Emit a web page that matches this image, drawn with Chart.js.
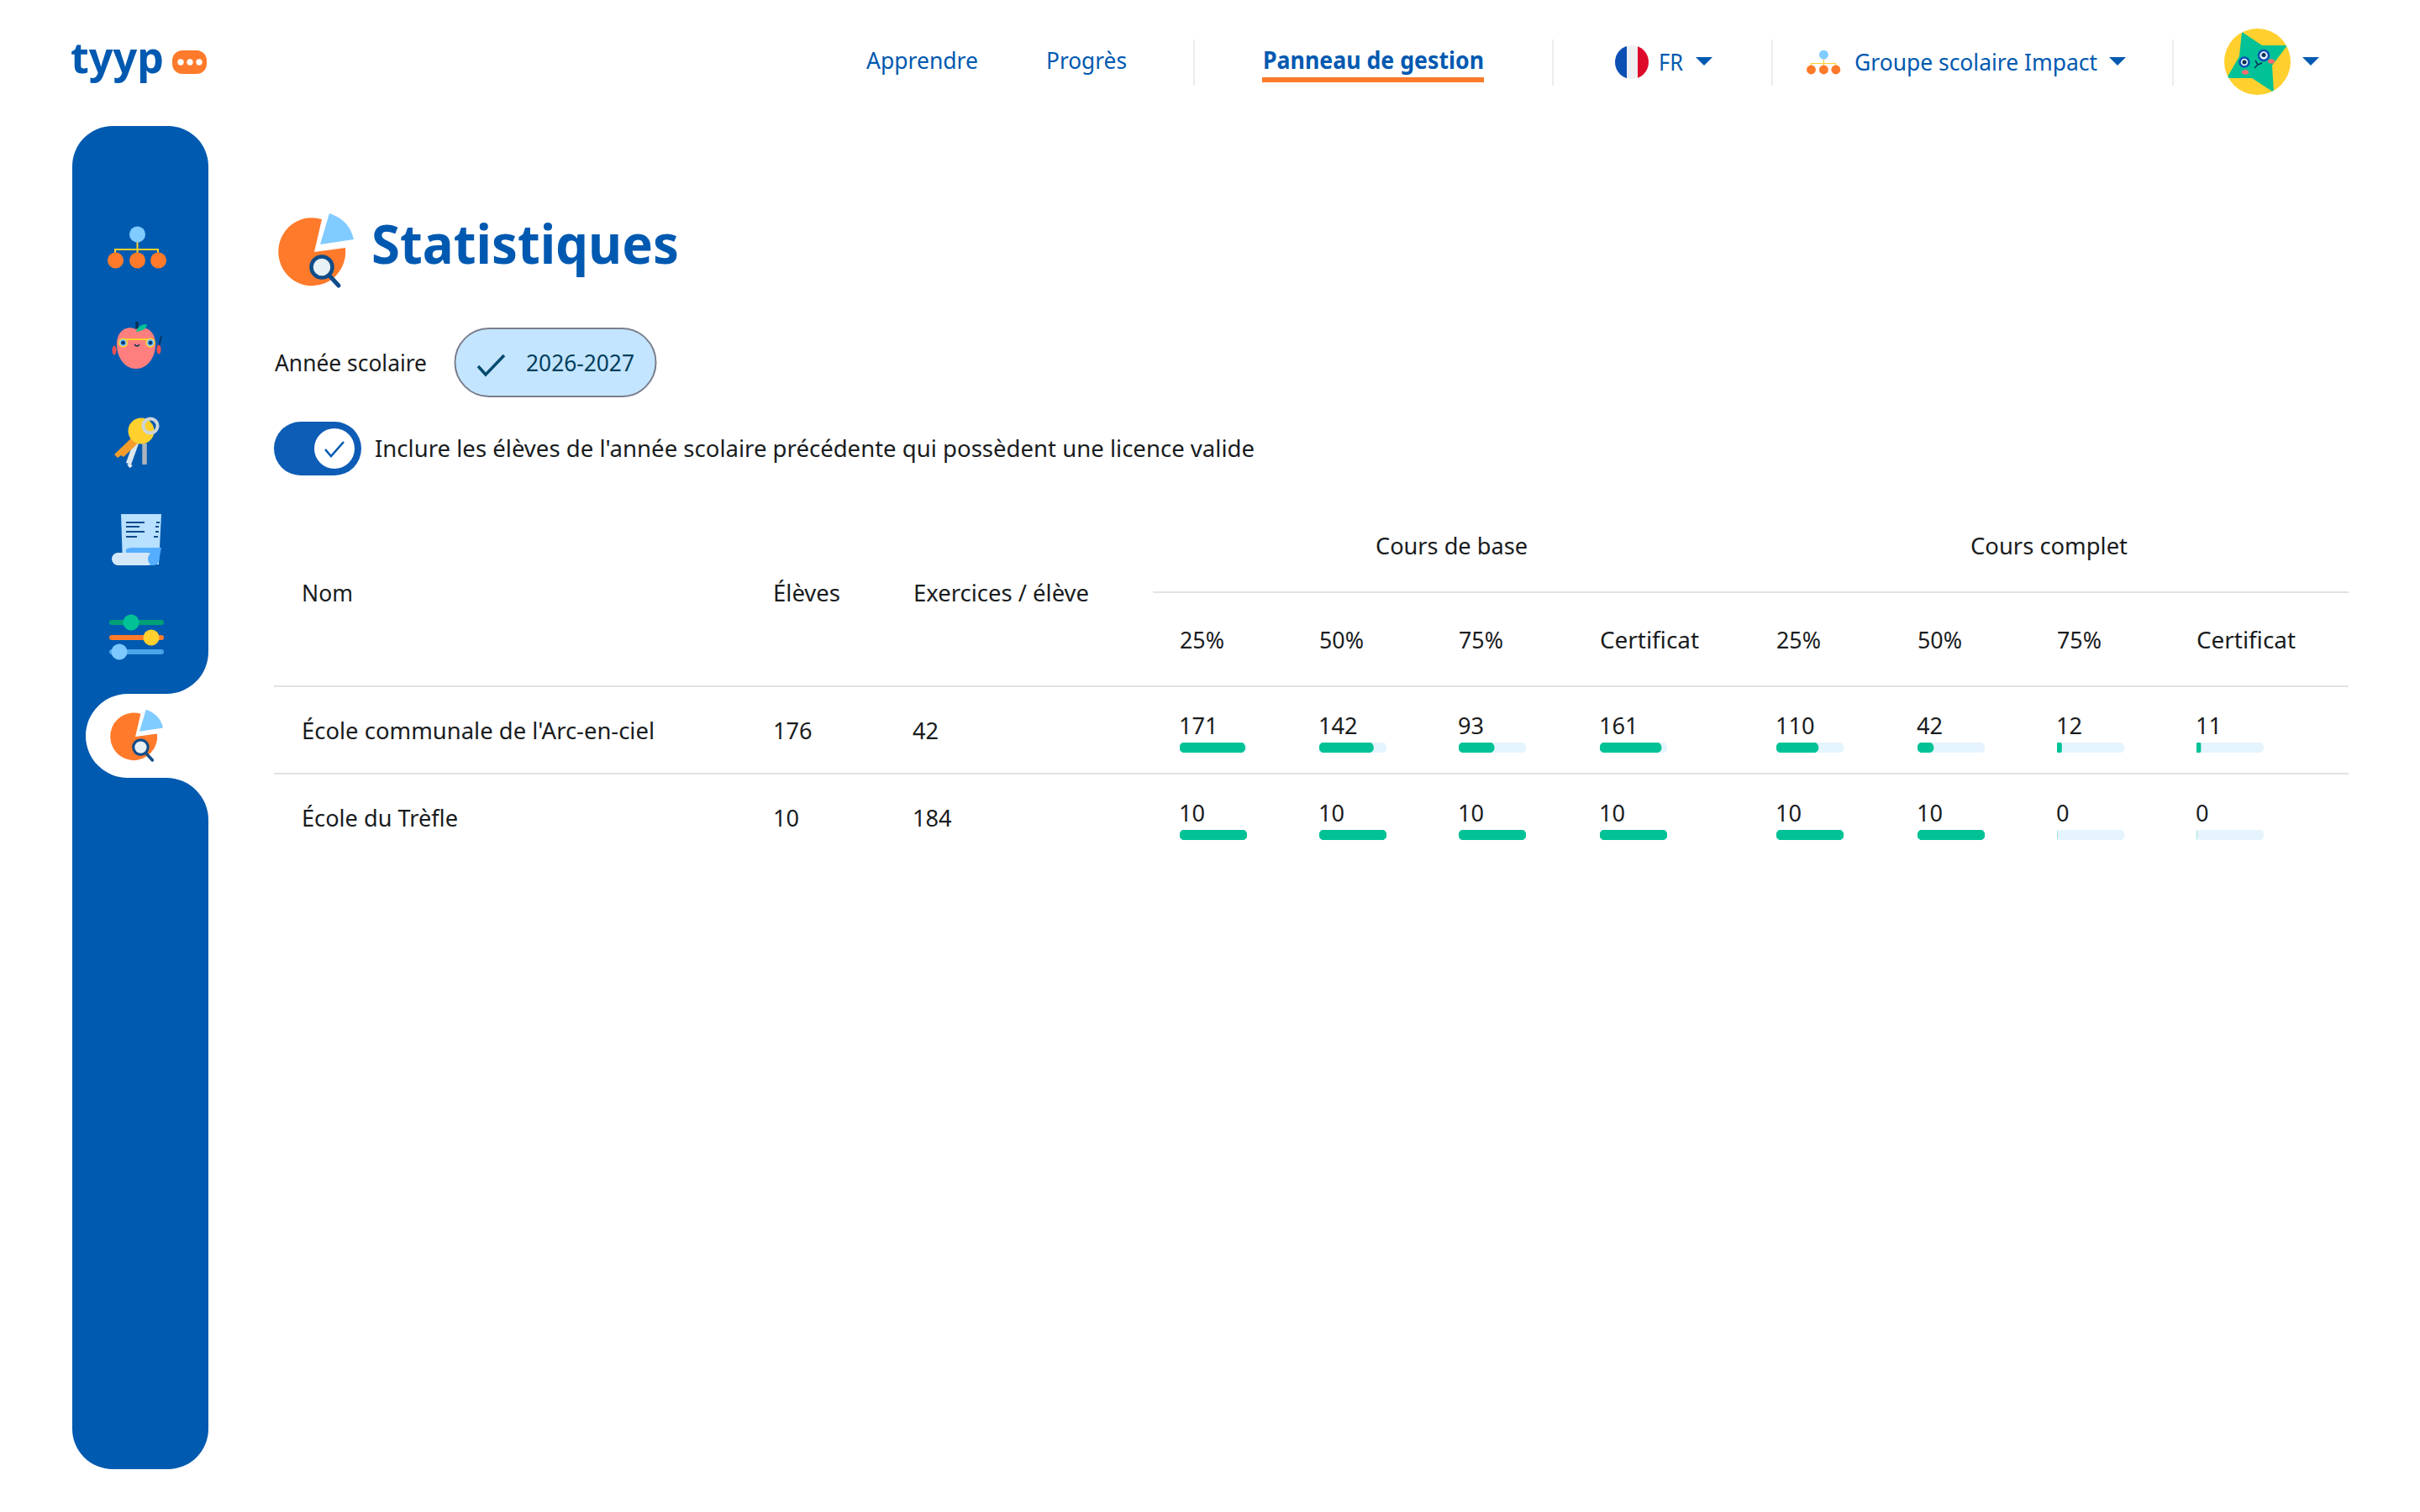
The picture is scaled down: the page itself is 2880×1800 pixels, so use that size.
<!DOCTYPE html>
<html lang="fr">
<head>
<meta charset="utf-8">
<title>Statistiques</title>
<script src="https://cdn.jsdelivr.net/npm/chart.js@4"></script>
<style>
html,body{margin:0;padding:0;background:#fff;width:2880px;height:1800px;overflow:hidden}
body{font-family:"Noto Sans",sans-serif;color:#191c1e;position:relative}
.t{position:absolute;white-space:nowrap;line-height:60px;height:60px;transform-origin:0 50%}
.nav{color:#0059b0}
.ln{position:absolute;height:2px;background:#e0e3e3}
.sep{position:absolute;width:2px;top:47px;height:55px;background:#eaeef0}
.car{position:absolute;width:0;height:0;border-left:10px solid transparent;border-right:10px solid transparent;border-top:10px solid #0059b0;top:68px}
.cell{position:absolute;width:80px;height:12px}
svg.bg{position:absolute;left:0;top:0}
</style>
</head>
<body>
<svg class="bg" width="2880" height="1800" viewBox="0 0 2880 1800" xmlns="http://www.w3.org/2000/svg">
<defs>
<symbol id="pie" overflow="visible">
<path d="M411 295A40 40.500 0 1 1 383 261L374 300Z" fill="#ff7a2a"/>
<path d="M381 291L392 254Q416 262 421 285Z" fill="#80cbff"/>
<line x1="391" y1="327" x2="403" y2="340" stroke="#0f4c8a" stroke-width="5" stroke-linecap="round"/>
<circle cx="383" cy="318" r="12.500" fill="#e8f1f5" stroke="#0f4c8a" stroke-width="4.500"/>
</symbol>
<symbol id="org" overflow="visible">
<path d="M163.500 285V304M137 304V297H188V304" fill="none" stroke="#ffd02e" stroke-width="2"/>
<circle cx="163.500" cy="279" r="9.500" fill="#80cbff"/>
<circle cx="137.500" cy="310" r="9.500" fill="#ff7a2a"/><circle cx="163.500" cy="310" r="9.500" fill="#ff7a2a"/><circle cx="188.500" cy="310" r="9.500" fill="#ff7a2a"/>
</symbol>
</defs>
<!-- logo bubble -->
<rect x="205" y="60" width="41" height="28" rx="12" fill="#ff7a2a"/>
<circle cx="215" cy="74" r="3.700" fill="#fff"/><circle cx="226" cy="74" r="3.700" fill="#fff"/><circle cx="237" cy="74" r="3.700" fill="#fff"/>
<!-- sidebar -->
<path d="M134 150H200A48 48 0 0 1 248 198V776A50 50 0 0 1 198 826H152A50 50 0 0 0 152 926H198A50 50 0 0 1 248 976V1701A48 48 0 0 1 200 1749H134A48 48 0 0 1 86 1701V198A48 48 0 0 1 134 150Z" fill="#005ab0"/>
<use href="#org"/>
<!-- apple -->
<path d="M163 383L163 393" stroke="#0b2f55" stroke-width="3.500"/>
<path d="M192 400L189 414" stroke="#0b2f55" stroke-width="1.500"/>
<ellipse cx="136" cy="417" rx="2.500" ry="5.500" fill="#ef4f4f"/><ellipse cx="189" cy="416" rx="2.500" ry="5.500" fill="#ef4f4f"/>
<path d="M162 392C175 386 186 396 185 412C184 428 174 439 162 439C150 439 140 428 139 412C138 396 149 386 162 392Z" fill="#ff7f7f"/>
<path d="M162 395Q164 386 175 386Q174 394 162 395Z" fill="#00c296"/>
<path d="M147 404H178" stroke="#ffd02e" stroke-width="2"/>
<circle cx="146.500" cy="408" r="5" fill="#7cc8ff" stroke="#ffd02e" stroke-width="1.500"/><circle cx="179" cy="408" r="5" fill="#7cc8ff" stroke="#ffd02e" stroke-width="1.500"/>
<circle cx="146.500" cy="408" r="2.500" fill="#0b3f7a"/><circle cx="179" cy="408" r="2.500" fill="#0b3f7a"/>
<path d="M160 410Q163 414 166 410" fill="none" stroke="#0b2f55" stroke-width="1.500"/>
<!-- keys -->
<path d="M162 527L153 552" stroke="#dbe8f0" stroke-width="6.500" fill="none"/>
<path d="M153 552L156 556" stroke="#dbe8f0" stroke-width="4" fill="none"/>
<path d="M172 528L172 553" stroke="#a9b4bb" stroke-width="5.500" fill="none"/>
<path d="M160 518L136 541L140 545L144 542L147 544L166 526Z" fill="#f59c2b"/>
<circle cx="168" cy="513" r="15.500" fill="#ffd02e"/>
<circle cx="179" cy="507" r="8.500" fill="none" stroke="#ccd6db" stroke-width="4"/>
<!-- receipt -->
<path d="M144 612H192L189 672H146Z" fill="#b8e0ff"/>
<path d="M150 654Q152 652 158 652H192L189 668Q188 673 180 673H150Z" fill="#55aeff"/>
<rect x="133" y="658" width="50" height="15" rx="7.500" fill="#d4e8fb"/>
<ellipse cx="182" cy="665.500" rx="6" ry="7.500" fill="#55aeff"/>
<path d="M150 622H172M150 627H166M150 633H172M150 639H163M186 622H190M185 627H189M185 633H189M183 639H188" stroke="#0f4c8a" stroke-width="2"/>
<!-- sliders -->
<path d="M133 741H192" stroke="#00a077" stroke-width="6" stroke-linecap="round"/>
<path d="M133 759H192" stroke="#ff7a2a" stroke-width="6" stroke-linecap="round"/>
<path d="M133 776H192" stroke="#4aa5ea" stroke-width="6" stroke-linecap="round"/>
<circle cx="156" cy="741" r="9.500" fill="#00c296"/><circle cx="180" cy="759" r="9.500" fill="#ffd02e"/><circle cx="142" cy="776" r="9.500" fill="#7cc8ff"/>
<!-- active + title icon -->
<use href="#pie" transform="translate(159 877) scale(.7) translate(-371 -300)"/>
<use href="#pie"/>
<!-- nav flag -->
<clipPath id="fc"><circle cx="1942" cy="74" r="20"/></clipPath>
<g clip-path="url(#fc)"><rect x="1922" y="54" width="14" height="40" fill="#0b4fb3"/><rect x="1936" y="54" width="13" height="40" fill="#eef0f2"/><rect x="1949" y="54" width="13" height="40" fill="#dd0a2b"/></g>
<use href="#org" transform="translate(2150 60) scale(.575) translate(-128 -270)"/>
<!-- avatar -->
<clipPath id="av"><circle cx="2686.500" cy="73.500" r="39.500"/></clipPath>
<g clip-path="url(#av)">
<rect x="2640" y="30" width="90" height="90" fill="#ffd02e"/>
<path d="M2668 38L2692 54L2722 54L2704 78L2706 110L2680 93L2650 93L2665 67Z" fill="#00c296"/>
<circle cx="2671" cy="74" r="5.500" fill="#e6f3ff" stroke="#0b4fb3" stroke-width="2.500"/><circle cx="2694" cy="66" r="6" fill="#e6f3ff" stroke="#0b4fb3" stroke-width="2.500"/>
<circle cx="2671" cy="74" r="2.500" fill="#0b2f55"/><circle cx="2694" cy="65.500" r="2.500" fill="#0b2f55"/>
<path d="M2684 72L2687 77L2683 81M2687 77L2692 75" fill="none" stroke="#0b2f55" stroke-width="1.500"/>
<ellipse cx="2672" cy="86" rx="4" ry="2.800" fill="#ff6d6d"/><ellipse cx="2703" cy="73" rx="4" ry="2.800" fill="#ff6d6d"/>
</g>
<!-- year pill -->
<rect x="541.500" y="391" width="239" height="81" rx="40.500" fill="#c4e5ff" stroke="#7a7e8c" stroke-width="2"/>
<path d="M569 436L578 446L600 423" fill="none" stroke="#004a6e" stroke-width="3.500"/>
<!-- toggle -->
<rect x="326" y="502" width="104" height="64" rx="32" fill="#0d5cb5"/>
<circle cx="398" cy="534" r="24" fill="#fff"/>
<path d="M387 535L394 543L409 526" fill="none" stroke="#0059b0" stroke-width="2.500"/>
<!-- header underline -->
<rect x="1502" y="92" width="264" height="6" fill="#ff7a2a"/>
</svg>
<div id="root"></div>
<script>
// ---- data ----
const schools = ["École communale de l'Arc-en-ciel", "École du Trèfle"];
const students = [176, 10];
const exercisesPerStudent = [42, 184];
const milestones = ["25%", "50%", "75%", "Certificat"];
const basicCourse1 = [171, 142, 93, 161];
const basicCourse2 = [10, 10, 10, 10];
const fullCourse1 = [110, 42, 12, 11];
const fullCourse2 = [10, 10, 0, 0];

// ---- layout only ----
const columnX = [1404, 1570, 1736, 1904, 2114, 2282, 2448, 2614];
const rowLabelY = [864, 968];
const rowTextY = [870, 974];
const rowBarY = [884, 988];
const fillColor = "#00c296";
const trackColor = "#e5f4fd";

const root = document.getElementById("root");
// w: width of the text in the reference; sx: plain horizontal narrowing of the glyphs
function txt(s, x, cy, opt) {
  const o = opt || {};
  const d = document.createElement("div");
  d.className = "t" + (o.nav ? " nav" : "");
  d.textContent = s;
  d.style.left = x + "px";
  d.style.top = (cy - 31) + "px";
  d.style.fontSize = (o.size || 28) + "px";
  if (o.weight) d.style.fontWeight = o.weight;
  if (o.color) d.style.color = o.color;
  root.appendChild(d);
  if (o.w) d.style.transform = "scaleX(" + (o.w / d.getBoundingClientRect().width) + ")";
  else if (o.sx) d.style.transform = "scaleX(" + o.sx + ")";
}
function el(cls, css) {
  const d = document.createElement("div");
  d.className = cls;
  Object.assign(d.style, css);
  root.appendChild(d);
  return d;
}

// header
txt("tyyp", 84, 68, {size: 51, weight: 700, color: "#0059b0", w: 111});
txt("Apprendre", 1031, 72, {nav: 1, w: 133});
txt("Progrès", 1245, 72, {nav: 1, w: 96});
txt("Panneau de gestion", 1503, 72, {nav: 1, weight: 700, w: 263});
txt("FR", 1974, 74, {nav: 1, w: 29});
txt("Groupe scolaire Impact", 2207, 74, {nav: 1, w: 289});
[1420, 1847, 2108, 2585].forEach(x => el("sep", {left: x + "px"}));
[2018, 2510, 2740].forEach(x => el("car", {left: x + "px"}));

// title and filters
txt("Statistiques", 442, 291, {size: 64, weight: 700, color: "#0059b0", w: 366});
txt("Année scolaire", 327, 432, {w: 181});
txt("2026-2027", 626, 432, {color: "#003e5c", w: 129});
txt("Inclure les élèves de l'année scolaire précédente qui possèdent une licence valide", 446, 534, {w: 1047});

// table header
txt("Nom", 359, 706, {w: 61});
txt("Élèves", 920, 706, {w: 80});
txt("Exercices / élève", 1087, 706, {w: 209});
txt("Cours de base", 1637, 650, {w: 181});
txt("Cours complet", 2345, 650, {w: 187});
el("ln", {left: "1372px", width: "1423px", top: "704px"});
el("ln", {left: "326px", width: "2469px", top: "816px"});
el("ln", {left: "326px", width: "2469px", top: "920px"});
columnX.forEach((x, i) => txt(milestones[i % 4], x, 762, {w: i % 4 === 3 ? 118 : 53}));

// table rows with one small Chart.js progress bar per cell
const rows = [basicCourse1.concat(fullCourse1), basicCourse2.concat(fullCourse2)];
rows.forEach((vals, r) => {
  txt(schools[r], 359, rowTextY[r], {w: r === 0 ? 420 : 186});
  txt(String(students[r]), 920, rowTextY[r], {sx: .97});
  txt(String(exercisesPerStudent[r]), 1086, rowTextY[r], {sx: .97});
  vals.forEach((v, c) => {
    txt(String(v), columnX[c] - 1, rowLabelY[r], {sx: .97});
    const box = el("cell", {left: columnX[c] + "px", top: rowBarY[r] + "px"});
    const cv = document.createElement("canvas");
    box.appendChild(cv);
    new Chart(cv, {
      type: "bar",
      data: {
        labels: [milestones[c % 4]],
        datasets: [
          {data: [v], backgroundColor: fillColor, order: 0, grouped: false, barPercentage: 1, categoryPercentage: 1, borderRadius: 6, borderSkipped: false},
          {data: [students[r]], backgroundColor: trackColor, order: 1, grouped: false, barPercentage: 1, categoryPercentage: 1, borderRadius: 6, borderSkipped: false}
        ]
      },
      options: {
        indexAxis: "y",
        responsive: true,
        maintainAspectRatio: false,
        devicePixelRatio: 1,
        animation: false,
        layout: {padding: 0},
        plugins: {legend: {display: false}, tooltip: {enabled: false}, title: {display: false}},
        scales: {
          x: {display: false, min: 0, max: students[r]},
          y: {display: false}
        }
      }
    });
  });
});
</script>
</body>
</html>
